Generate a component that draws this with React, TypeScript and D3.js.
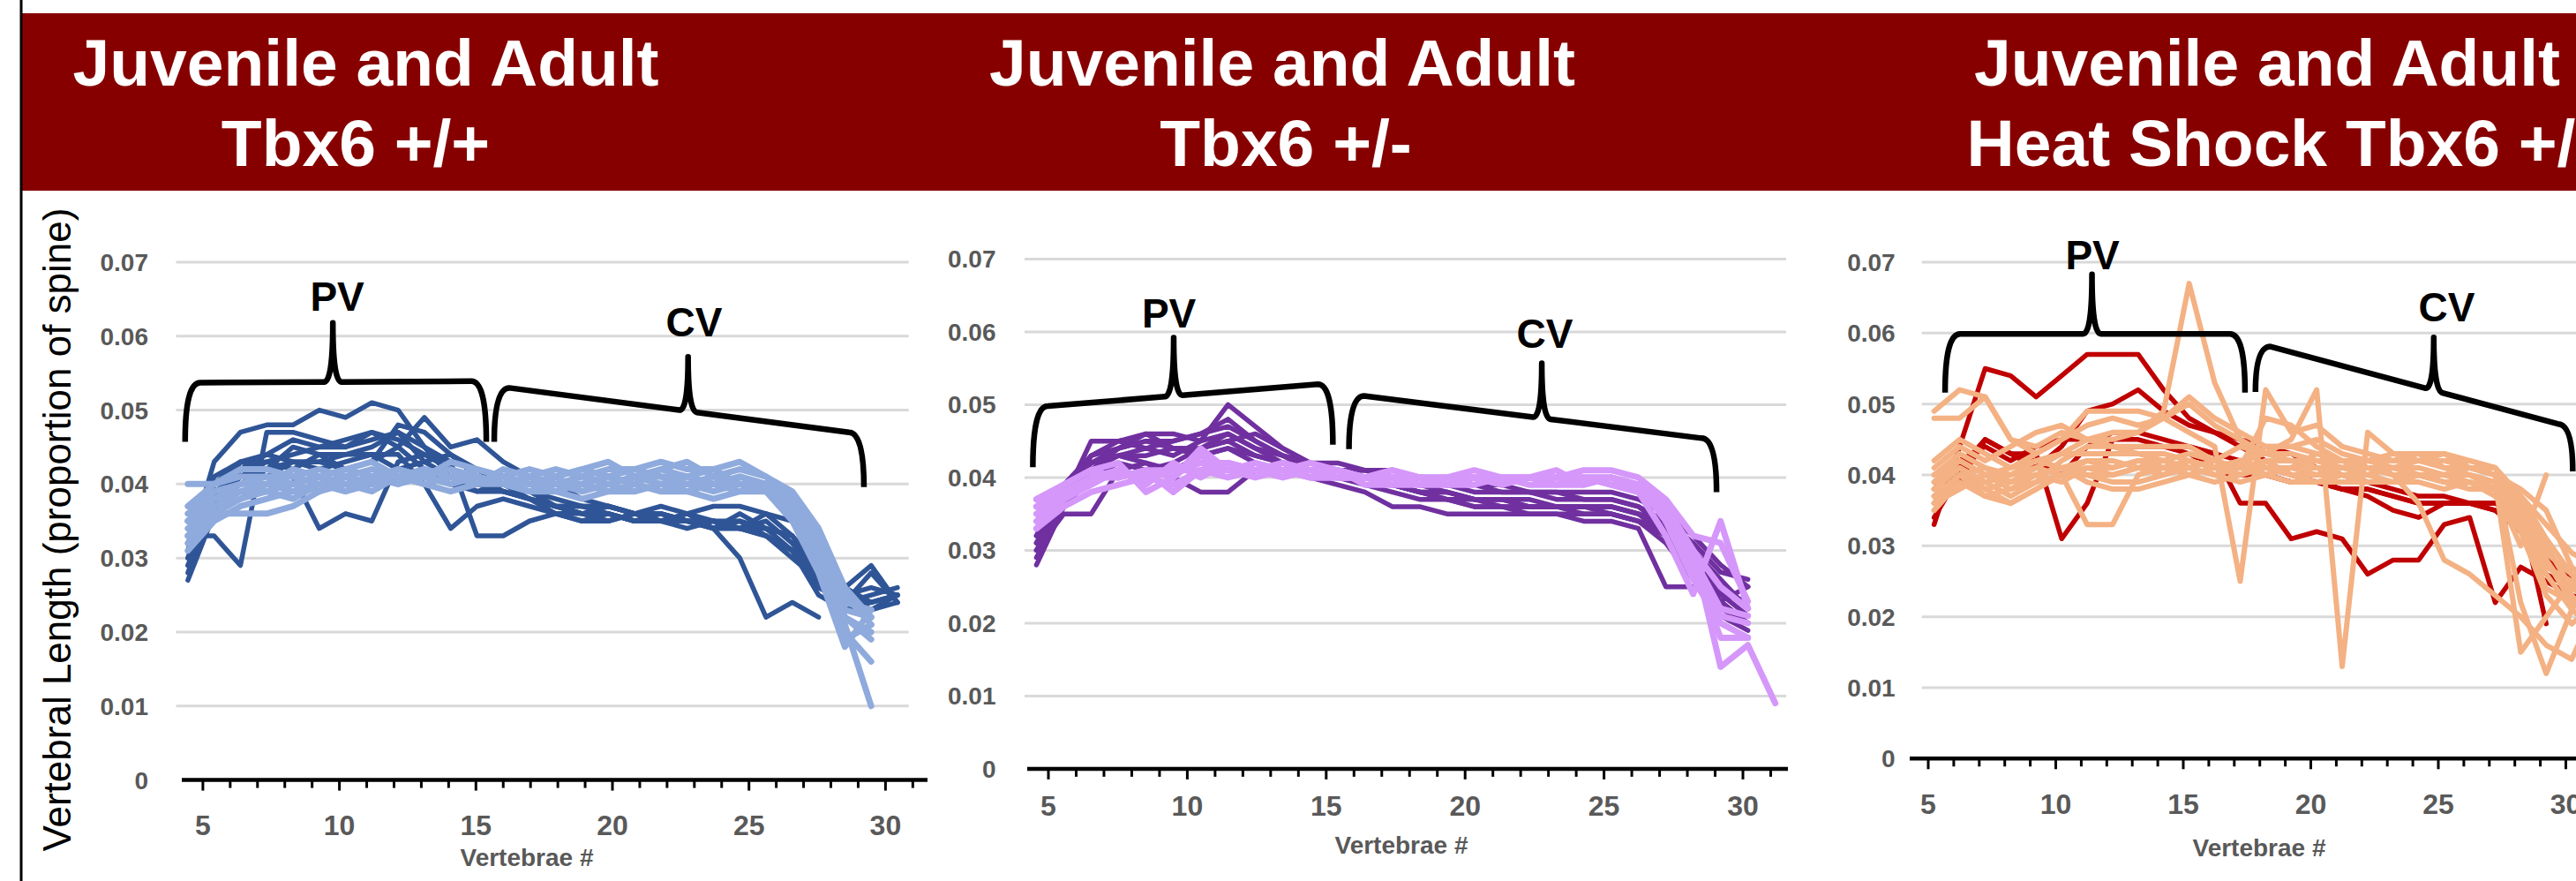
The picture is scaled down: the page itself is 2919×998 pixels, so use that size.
import React from "react";
import * as d3 from "d3";

const W = 2919;
const H = 998;

// ---------- shared tick values ----------
const yTickValues = [0, 0.01, 0.02, 0.03, 0.04, 0.05, 0.06, 0.07];
const yTickLabels = ["0", "0.01", "0.02", "0.03", "0.04", "0.05", "0.06", "0.07"];
const xMajorTicks = [5, 10, 15, 20, 25, 30];
const xAllTicks = [5, 6, 7, 8, 9, 10, 11, 12, 13, 14, 15, 16, 17, 18, 19, 20, 21, 22, 23, 24, 25, 26, 27, 28, 29, 30, 31];

// ---------- Panel 1: Juvenile and Adult Tbx6 +/+ ----------
const wtDark = [
  [.031, .043, .047, .048, .048, .050, .049, .051, .050, .045, .041, .040, .039, .038, .037, .036, .037, .036, .036, .035, .035, .034, .035, .032, .027, .025, .024, .025],
  [.033, .033, .029, .047, .047, .046, .045, .046, .047, .043, .044, .041, .039, .038, .037, .037, .036, .035, .036, .035, .034, .036, .034, .031, .026, .024, .028, .024],
  [.029, .037, .043, .042, .041, .034, .036, .035, .043, .044, .042, .040, .039, .038, .036, .036, .035, .036, .035, .035, .034, .035, .033, .030, .027, .023, .023, .025],
  [.030, .040, .043, .043, .044, .045, .046, .047, .045, .049, .045, .046, .043, .041, .040, .038, .037, .036, .036, .035, .035, .034, .034, .033, .029, .026, .024, .025],
  [.028, .038, .042, .044, .043, .042, .043, .044, .044, .040, .034, .037, .038, .037, .036, .035, .035, .036, .035, .036, .035, .034, .036, .033, .028, .025, .023, .024],
  [.030, .039, .041, .042, .045, .044, .044, .045, .047, .045, .043, .033, .033, .035, .036, .035, .036, .035, .035, .035, .034, .034, .033, .031, .027, .024, .025, .026],
  [.027, .036, .042, .041, .043, .043, .042, .043, .048, .047, .044, .042, .040, .038, .037, .036, .036, .035, .035, .036, .034, .030, .022, .024, .022],
  [.032, .041, .043, .044, .046, .045, .045, .047, .046, .044, .043, .042, .040, .039, .038, .037, .037, .036, .037, .036, .037, .037, .036, .035, .030, .026, .029, .024],
  [.031, .039, .040, .042, .043, .043, .044, .044, .042, .043, .041, .039, .039, .038, .037, .037, .037, .036, .036, .035, .035, .035, .034, .033, .028, .025, .026, .025],
  [.029, .037, .041, .043, .042, .044, .042, .043, .045, .042, .040, .039, .040, .039, .037, .036, .036, .035, .035, .034, .035, .034, .033, .031, .025, .023, .024, .025],
];
const wtLight = [
  [.040, .040, .041, .041, .041, .042, .041, .042, .041, .042, .041, .042, .041, .040, .041, .042, .041, .040, .042, .041, .040, .041, .040, .037, .031, .022, .020],
  [.035, .038, .040, .041, .040, .041, .042, .041, .040, .041, .042, .041, .040, .041, .040, .040, .041, .042, .041, .041, .042, .040, .040, .038, .033, .024, .023],
  [.033, .036, .038, .040, .039, .040, .039, .041, .042, .041, .040, .041, .040, .039, .040, .039, .040, .039, .040, .040, .039, .040, .039, .036, .030, .020, .016],
  [.031, .035, .037, .038, .039, .040, .039, .040, .041, .040, .041, .040, .040, .039, .039, .038, .039, .040, .039, .039, .038, .039, .039, .037, .032, .021, .010],
  [.037, .040, .042, .042, .041, .040, .041, .040, .042, .041, .043, .042, .041, .042, .041, .042, .043, .041, .042, .043, .041, .042, .041, .039, .034, .026, .022],
  [.034, .037, .039, .039, .040, .041, .040, .041, .040, .042, .041, .040, .042, .041, .040, .041, .040, .041, .040, .041, .040, .039, .040, .036, .029, .019, .021],
  [.032, .036, .036, .036, .037, .039, .040, .039, .041, .040, .039, .040, .041, .040, .040, .040, .039, .039, .040, .039, .040, .040, .039, .035, .028, .018, .023],
  [.036, .039, .040, .040, .042, .041, .042, .043, .041, .042, .041, .041, .040, .041, .042, .041, .042, .042, .043, .042, .042, .043, .041, .038, .032, .023, .022],
  [.033, .037, .038, .039, .038, .040, .041, .040, .041, .041, .040, .041, .040, .040, .039, .040, .041, .040, .039, .040, .041, .040, .040, .037, .030, .022, .019],
  [.035, .038, .039, .040, .040, .039, .041, .040, .041, .042, .041, .041, .040, .040, .041, .039, .040, .041, .041, .040, .040, .041, .040, .038, .033, .025, .021],
];

// ---------- Panel 2: Juvenile and Adult Tbx6 +/- ----------
const hetDark = [
  [.028, .036, .043, .045, .046, .046, .045, .050, .047, .044, .042, .042, .041, .041, .040, .040, .039, .039, .038, .038, .038, .038, .037, .035, .032, .028, .025],
  [.031, .037, .045, .045, .044, .045, .046, .048, .045, .043, .042, .041, .041, .040, .039, .039, .038, .038, .038, .037, .037, .037, .036, .033, .030, .026, .022],
  [.033, .038, .041, .043, .044, .043, .045, .046, .044, .043, .041, .040, .040, .039, .038, .037, .037, .036, .036, .036, .036, .036, .035, .032, .027, .022, .020],
  [.030, .035, .035, .041, .042, .040, .038, .038, .041, .042, .041, .041, .040, .039, .039, .038, .037, .037, .036, .036, .036, .036, .035, .034, .030, .024, .021],
  [.032, .039, .043, .044, .046, .044, .044, .045, .043, .042, .041, .040, .040, .039, .038, .038, .037, .037, .037, .036, .036, .035, .034, .031, .026, .021, .019],
  [.029, .036, .040, .042, .041, .042, .044, .046, .044, .042, .040, .039, .038, .036, .036, .035, .035, .035, .035, .035, .034, .034, .033, .025, .025, .023, .020],
  [.031, .038, .042, .044, .045, .045, .046, .047, .045, .043, .042, .041, .041, .040, .040, .039, .039, .038, .038, .038, .037, .037, .036, .034, .031, .027, .026],
  [.034, .039, .042, .043, .043, .044, .043, .044, .043, .042, .041, .040, .039, .038, .037, .037, .036, .036, .036, .036, .035, .035, .034, .033, .029, .025, .022],
  [.030, .037, .041, .044, .045, .044, .044, .045, .046, .044, .042, .041, .040, .039, .038, .037, .036, .036, .035, .035, .035, .035, .034, .032, .028, .024, .023],
  [.032, .038, .042, .043, .042, .041, .043, .044, .042, .041, .041, .040, .040, .039, .038, .038, .037, .037, .036, .036, .036, .036, .035, .033, .029, .023, .025],
];
const hetLight = [
  [.036, .038, .040, .041, .040, .041, .042, .041, .041, .041, .042, .041, .040, .040, .040, .039, .040, .040, .040, .040, .040, .040, .039, .036, .030, .014, .017, .009],
  [.037, .039, .041, .040, .041, .040, .043, .041, .042, .041, .041, .040, .040, .041, .040, .040, .040, .040, .040, .041, .039, .040, .039, .034, .026, .020, .018],
  [.034, .037, .039, .041, .039, .042, .040, .042, .041, .041, .040, .041, .040, .040, .039, .040, .040, .039, .040, .040, .040, .039, .038, .035, .028, .018, .018],
  [.033, .036, .038, .039, .040, .039, .041, .040, .041, .041, .040, .040, .040, .039, .040, .039, .040, .040, .039, .039, .040, .039, .038, .032, .024, .034, .022],
  [.035, .038, .040, .041, .040, .041, .041, .042, .041, .042, .041, .041, .040, .041, .040, .040, .041, .040, .040, .040, .041, .041, .040, .037, .032, .031, .023],
  [.037, .039, .041, .042, .038, .040, .044, .041, .041, .040, .041, .041, .039, .039, .039, .039, .040, .039, .040, .039, .039, .040, .038, .035, .027, .021, .020],
  [.033, .037, .040, .040, .041, .038, .041, .041, .040, .041, .040, .040, .040, .040, .040, .039, .039, .040, .040, .040, .040, .040, .039, .036, .029, .022, .021],
  [.036, .039, .041, .040, .041, .041, .042, .042, .041, .042, .041, .041, .040, .040, .040, .040, .040, .040, .040, .040, .040, .040, .039, .036, .030, .025, .022],
];

// ---------- Panel 3: Juvenile and Adult Heat Shock Tbx6 +/- ----------
const hsDark = [
  [.033, .044, .055, .054, .051, .054, .057, .057, .057, .052, .048, .046, .044, .042, .040, .039, .038, .038, .037, .036, .036, .036, .035, .032, .026, .024, .024],
  [.036, .041, .045, .043, .042, .040, .044, .046, .046, .045, .044, .043, .036, .036, .031, .032, .031, .026, .028, .028, .033, .034, .022, .027, .025, .023, .022],
  [.034, .040, .045, .043, .043, .031, .036, .045, .045, .044, .044, .043, .042, .040, .039, .039, .038, .038, .037, .036, .036, .036, .035, .033, .029, .025, .024],
  [.035, .039, .045, .043, .041, .044, .049, .050, .052, .049, .047, .046, .045, .044, .043, .041, .040, .039, .038, .037, .037, .036, .036, .035, .019],
  [.038, .042, .044, .042, .044, .045, .045, .044, .044, .044, .043, .041, .040, .040, .039, .039, .038, .037, .035, .034, .036, .036, .036, .034, .028, .024, .024],
];
const hsLight = [
  [.049, .052, .051, .045, .043, .045, .047, .048, .047, .048, .050, .047, .045, .043, .042, .042, .041, .041, .040, .040, .039, .039, .038, .033, .027, .025, .024],
  [.048, .048, .051, .045, .044, .046, .045, .046, .046, .048, .051, .048, .046, .044, .044, .043, .042, .041, .041, .041, .040, .040, .039, .035, .029, .026, .024],
  [.040, .042, .040, .039, .041, .043, .045, .045, .046, .049, .067, .053, .045, .041, .041, .040, .040, .040, .041, .040, .040, .039, .038, .034, .028, .022, .020],
  [.042, .045, .043, .041, .043, .045, .049, .049, .049, .048, .046, .044, .025, .052, .046, .047, .044, .043, .042, .042, .041, .041, .040, .036, .030, .024, .022],
  [.038, .041, .039, .037, .039, .042, .044, .044, .044, .044, .044, .042, .044, .043, .045, .052, .013, .046, .043, .043, .043, .042, .041, .037, .031, .026, .023],
  [.037, .040, .038, .036, .038, .040, .033, .033, .040, .041, .042, .041, .042, .041, .041, .041, .040, .040, .039, .040, .039, .038, .038, .033, .024, .022, .020],
  [.039, .041, .038, .039, .040, .041, .042, .041, .042, .042, .041, .042, .041, .048, .047, .044, .042, .041, .040, .036, .028, .026, .023, .020, .016, .014, .022],
  [.036, .040, .037, .036, .038, .040, .041, .041, .042, .041, .042, .041, .042, .040, .041, .042, .041, .041, .041, .040, .040, .040, .039, .015, .020, .025, .021],
  [.039, .042, .040, .038, .040, .039, .041, .040, .041, .042, .041, .040, .041, .044, .044, .045, .043, .042, .042, .043, .041, .040, .038, .030, .040],
  [.038, .041, .039, .040, .041, .040, .042, .042, .041, .040, .042, .041, .041, .040, .041, .043, .042, .042, .043, .042, .042, .041, .040, .022, .012, .021, .026],
  [.037, .040, .041, .039, .040, .041, .040, .040, .041, .041, .040, .041, .040, .041, .040, .040, .041, .042, .042, .042, .042, .042, .041, .036, .028, .023, .019],
  [.040, .043, .041, .040, .042, .043, .043, .043, .043, .042, .043, .042, .041, .042, .042, .041, .041, .040, .041, .040, .040, .041, .041, .037, .033, .029, .027],
  [.035, .039, .037, .038, .039, .040, .040, .039, .039, .040, .041, .040, .039, .040, .039, .039, .040, .039, .039, .040, .039, .039, .038, .034, .026, .021, .018],
  [.036, .038, .040, .041, .042, .041, .039, .038, .038, .039, .040, .039, .040, .042, .040, .039, .039, .039, .039, .039, .038, .039, .037, .032, .023, .019, .022],
  [.041, .044, .042, .044, .046, .047, .045, .044, .043, .043, .042, .041, .042, .043, .043, .042, .042, .042, .041, .042, .043, .041, .040, .038, .035, .027, .024],
];

// ---------- annotation braces (data units: vertebra, proportion) ----------
type Brace = {
  label: string; labelX: number; labelY: number;
  xL: number; yEndL: number; yTopL: number;
  xR: number; yEndR: number; yTopR: number;
  tipX: number; tipY: number;
};

const wtBraces: Brace[] = [
  { label: "PV", labelX: 9.92, labelY: 0.0634, xL: 4.35, yEndL: 0.0457, yTopL: 0.0537, xR: 15.38, yEndR: 0.0457, yTopR: 0.0539, tipX: 9.76, tipY: 0.0618 },
  { label: "CV", labelX: 22.99, labelY: 0.0600, xL: 15.67, yEndL: 0.0457, yTopL: 0.0530, xR: 29.21, yEndR: 0.0396, yTopR: 0.0470, tipX: 22.77, tipY: 0.0572 },
];
const hetBraces: Brace[] = [
  { label: "PV", labelX: 9.34, labelY: 0.0606, xL: 4.44, yEndL: 0.0414, yTopL: 0.0498, xR: 15.24, yEndR: 0.0445, yTopR: 0.0528, tipX: 9.51, tipY: 0.0592 },
  { label: "CV", labelX: 22.87, labelY: 0.0578, xL: 15.82, yEndL: 0.0439, yTopL: 0.0512, xR: 29.05, yEndR: 0.0380, yTopR: 0.0454, tipX: 22.76, tipY: 0.0557 },
];
const hsBraces: Brace[] = [
  { label: "PV", labelX: 11.44, labelY: 0.0690, xL: 5.66, yEndL: 0.0516, yTopL: 0.0599, xR: 17.42, yEndR: 0.0516, yTopR: 0.0599, tipX: 11.42, tipY: 0.0683 },
  { label: "CV", labelX: 25.33, labelY: 0.0617, xL: 17.83, yEndL: 0.0517, yTopL: 0.0581, xR: 30.27, yEndR: 0.0405, yTopR: 0.0472, tipX: 24.82, tipY: 0.0594 },
];

type Panel = {
  titleLines: string[]; titleX: number[]; titleAnchor: string[];
  xRange: [number, number]; yRange: [number, number];
  grid: [number, number]; axis: [number, number];
  yLabelX: number; tickLabelY: number; axisTitleX: number; axisTitleY: number;
  start: number; step: number;
  dark: number[][]; light: number[][]; darkColor: string; lightColor: string;
  darkWidth: number; lightWidth: number;
  braces: Brace[];
};

const panels: Panel[] = [
  {
    titleLines: ["Juvenile and Adult", "Tbx6 +/+"], titleX: [414.6, 403], titleAnchor: ["middle", "middle"],
    xRange: [229.9, 1003.4], yRange: [883.6, 296.9], grid: [199.5, 1029.7], axis: [206, 1051],
    yLabelX: 168, tickLabelY: 946, axisTitleX: 597, axisTitleY: 981,
    start: 4.45, step: 0.9625,
    dark: wtDark, light: wtLight, darkColor: "#2F5597", lightColor: "#8FAADC", darkWidth: 5.5, lightWidth: 7,
    braces: wtBraces,
  },
  {
    titleLines: ["Juvenile and Adult", "Tbx6 +/-"], titleX: [1453, 1457], titleAnchor: ["middle", "middle"],
    xRange: [1188, 1975], yRange: [870.9, 293.4], grid: [1161, 2024], axis: [1164, 2026],
    yLabelX: 1128.5, tickLabelY: 924, axisTitleX: 1588, axisTitleY: 967,
    start: 4.57, step: 0.985,
    dark: hetDark, light: hetLight, darkColor: "#7030A0", lightColor: "#D597FA", darkWidth: 5.5, lightWidth: 7,
    braces: hetBraces,
  },
  {
    titleLines: ["Juvenile and Adult", "Heat Shock Tbx6 +/-"], titleX: [2237, 2228.6], titleAnchor: ["start", "start"],
    xRange: [2185, 2907.5], yRange: [859.3, 297], grid: [2177.6, 2919], axis: [2164, 2919],
    yLabelX: 2147.7, tickLabelY: 922, axisTitleX: 2560, axisTitleY: 970,
    start: 5.23, step: 1.0,
    dark: hsDark, light: hsLight, darkColor: "#C00000", lightColor: "#F4B183", darkWidth: 5.5, lightWidth: 6,
    braces: hsBraces,
  },
];

const FONT = "'Liberation Sans', Arial, Helvetica, sans-serif";
const GRAY = "#595959";

function bracePath(b: Brace, x: d3.ScaleLinear<number, number>, y: d3.ScaleLinear<number, number>) {
  const r = 17, tw = 10;
  const xl = x(b.xL), xr = x(b.xR);
  const yel = y(b.yEndL), yer = y(b.yEndR), ytl = y(b.yTopL), ytr = y(b.yTopR);
  const tx = x(b.tipX), ty = y(b.tipY);
  const ax0 = xl + r, ax1 = xr - r;
  const armY = (px: number) => ytl + ((ytr - ytl) * (px - ax0)) / (ax1 - ax0);
  return [
    `M${xl},${yel}`,
    `Q${xl},${ytl} ${ax0},${ytl}`,
    `L${tx - tw},${armY(tx - tw)}`,
    `Q${tx},${armY(tx)} ${tx},${ty}`,
    `Q${tx},${armY(tx)} ${tx + tw},${armY(tx + tw)}`,
    `L${ax1},${ytr}`,
    `Q${xr},${ytr} ${xr},${yer}`,
  ].join(" ");
}

function PanelView({ p }: { p: Panel }) {
  const x = d3.scaleLinear().domain([5, 30]).range(p.xRange);
  const y = d3.scaleLinear().domain([0, 0.07]).range(p.yRange);
  const line = d3
    .line<number>()
    .x((_, i) => x(p.start + i * p.step))
    .y((d) => y(d));
  const axisY = y(0);
  return (
    <g>
      {p.titleLines.map((t, i) => (
        <text
          key={"t" + i}
          x={p.titleX[i]}
          y={i === 0 ? 97 : 188}
          textAnchor={p.titleAnchor[i] as any}
          fill="#FFFFFF"
          fontFamily={FONT}
          fontWeight="bold"
          fontSize={75}
        >
          {t}
        </text>
      ))}
      {yTickValues.slice(1).map((v) => (
        <line key={"g" + v} x1={p.grid[0]} x2={p.grid[1]} y1={y(v)} y2={y(v)} stroke="#D9D9D9" strokeWidth={3} />
      ))}
      {yTickValues.map((v, i) => (
        <text
          key={"yl" + v}
          x={p.yLabelX}
          y={y(v)}
          dy="0.36em"
          textAnchor="end"
          fill={GRAY}
          fontFamily={FONT}
          fontWeight="bold"
          fontSize={28}
        >
          {yTickLabels[i]}
        </text>
      ))}
      {p.dark.map((s, i) => (
        <path key={"d" + i} d={line(s) || ""} fill="none" stroke={p.darkColor} strokeWidth={p.darkWidth} strokeLinejoin="round" strokeLinecap="round" />
      ))}
      {p.light.map((s, i) => (
        <path key={"l" + i} d={line(s) || ""} fill="none" stroke={p.lightColor} strokeWidth={p.lightWidth} strokeLinejoin="round" strokeLinecap="round" />
      ))}
      <line x1={p.axis[0]} x2={p.axis[1]} y1={axisY} y2={axisY} stroke="#000" strokeWidth={4.5} />
      {xAllTicks.map((t) => (
        <line
          key={"tk" + t}
          x1={x(t)}
          x2={x(t)}
          y1={axisY}
          y2={axisY + (t % 5 === 0 ? 12 : 9)}
          stroke="#000"
          strokeWidth={3}
        />
      ))}
      {xMajorTicks.map((t) => (
        <text
          key={"xl" + t}
          x={x(t)}
          y={p.tickLabelY}
          textAnchor="middle"
          fill={GRAY}
          fontFamily={FONT}
          fontWeight="bold"
          fontSize={32}
        >
          {t}
        </text>
      ))}
      <text x={p.axisTitleX} y={p.axisTitleY} textAnchor="middle" fill={GRAY} fontFamily={FONT} fontWeight="bold" fontSize={28}>
        Vertebrae #
      </text>
      {p.braces.map((b, i) => (
        <g key={"b" + i}>
          <path d={bracePath(b, x, y)} fill="none" stroke="#000" strokeWidth={6.5} strokeLinejoin="round" />
          <text x={x(b.labelX)} y={y(b.labelY)} textAnchor="middle" fill="#000" fontFamily={FONT} fontWeight="bold" fontSize={46}>
            {b.label}
          </text>
        </g>
      ))}
    </g>
  );
}

export default function App() {
  return (
    <svg
      width={W}
      height={H}
      viewBox={`0 0 ${W} ${H}`}
      style={{ position: "absolute", left: 0, top: 0, display: "block", background: "#fff" }}
    >
      <rect x={0} y={0} width={W} height={H} fill="#FFFFFF" />
      <rect x={24} y={15} width={W - 24} height={201} fill="#870000" />
      <line x1={24} x2={24} y1={0} y2={H} stroke="#000" strokeWidth={3} />
      {panels.map((p, i) => (
        <PanelView key={i} p={p} />
      ))}
      <text
        transform="translate(80,600) rotate(-90)"
        textAnchor="middle"
        fill="#000"
        fontFamily={FONT}
        fontSize={44}
      >
        Vertebral Length (proportion of spine)
      </text>
    </svg>
  );
}
